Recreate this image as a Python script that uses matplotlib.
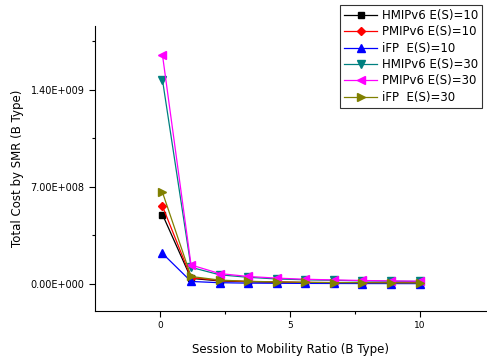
import matplotlib
matplotlib.use('Agg')
import matplotlib.pyplot as plt
from matplotlib.ticker import FixedLocator, FuncFormatter

# session to mobility ratio
smr = [0.1, 1.2, 2.3, 3.4, 4.5, 5.6, 6.7, 7.8, 8.9, 10.0]

hmip_10 = [5.0e8, 4.0e7, 2.2e7, 1.6e7, 1.2e7, 1.0e7, 8.5e6, 7.5e6, 6.5e6, 6.0e6]
pmip_10 = [5.6e8, 4.6e7, 2.5e7, 1.8e7, 1.4e7, 1.1e7, 9.5e6, 8.5e6, 7.5e6, 7.0e6]
ifp_10 = [2.2e8, 1.8e7, 9.0e6, 6.0e6, 5.0e6, 4.0e6, 3.5e6, 3.0e6, 2.7e6, 2.4e6]
hmip_30 = [1.47e9, 1.2e8, 6.6e7, 4.8e7, 3.6e7, 3.0e7, 2.6e7, 2.2e7, 2.0e7, 1.8e7]
pmip_30 = [1.65e9, 1.37e8, 7.5e7, 5.4e7, 4.2e7, 3.4e7, 2.9e7, 2.5e7, 2.2e7, 2.0e7]
ifp_30 = [6.6e8, 5.4e7, 2.8e7, 1.9e7, 1.5e7, 1.2e7, 1.0e7, 9.0e6, 8.0e6, 7.0e6]

labels = ['HMIPv6 E(S)=10', 'PMIPv6 E(S)=10', 'iFP  E(S)=10',
          'HMIPv6 E(S)=30', 'PMIPv6 E(S)=30', 'iFP  E(S)=30']
yticks = [0, 7e8, 1.4e9]

plt.rcParams['font.family'] = ['DejaVu Sans']

fig = plt.figure(figsize=(4.87, 3.57), dpi=100)
ax = fig.add_axes([95/487, 46/357, 1 - 95/487, (311-26)/357])

series = [hmip_10, pmip_10, ifp_10, hmip_30, pmip_30, ifp_30]
colors = ['#000000', '#ff0000', '#0000ff', '#008080', '#ff00ff', '#808000']
markers = ['s', 'D', '^', 'v', '<', '>']
sizes = [5, 4.5, 6, 6, 6, 6]
for ys, c, m, s, lab in zip(series, colors, markers, sizes, labels):
  ax.plot(smr, ys, color=c, marker=m, markersize=s, linewidth=0.9, label=lab)

ax.set_xlim(-2.5, 12.6)
ax.set_ylim(-1.95e8, 1.86e9)
ax.xaxis.set_major_locator(FixedLocator([0, 5, 10]))
ax.xaxis.set_minor_locator(FixedLocator([2.5, 7.5]))
ax.yaxis.set_major_locator(FixedLocator(yticks))
ax.yaxis.set_minor_locator(FixedLocator([3.5e8, 1.05e9, 1.75e9]))

def sci(v, pos):
  if v == 0:
    return '0.00E+000'
  m, e = '{:.2E}'.format(v).split('E')
  return '{}E+{:03d}'.format(m, int(e))

ax.yaxis.set_major_formatter(FuncFormatter(sci))
ax.xaxis.set_major_formatter(FuncFormatter(lambda v, p: '{:d}'.format(int(v))))
ax.tick_params(which='major', direction='out', length=4, width=0.8, labelsize=6.5)
ax.tick_params(axis='y', which='major', labelsize=7)
ax.tick_params(which='minor', direction='out', length=2.5, width=0.8)
ax.spines['top'].set_visible(False)
ax.spines['right'].set_visible(False)

ax.set_xlabel('Session to Mobility Ratio (B Type)', fontsize=8.5, labelpad=9)
ax.set_ylabel('Total Cost by SMR (B Type)', fontsize=8.5, labelpad=5)

leg = fig.legend(loc='upper left', bbox_to_anchor=(340/487, 1 - 5/357), fontsize=8.5,
                 frameon=True, fancybox=False, edgecolor='black', borderpad=0.35,
                 labelspacing=0.28, handlelength=2.8, handletextpad=0.4, borderaxespad=0)
leg.get_frame().set_linewidth(0.8)

plt.savefig('out.png', dpi=100)
